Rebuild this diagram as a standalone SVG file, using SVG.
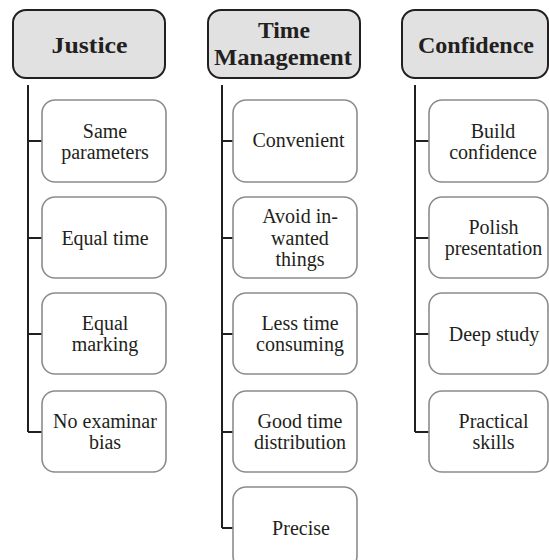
<svg xmlns="http://www.w3.org/2000/svg" width="549" height="560" viewBox="0 0 549 560">
<style>
.hdr{fill:#e1e1e1;stroke:#231f20;stroke-width:2}
.box{fill:#ffffff;stroke:#8c8c8c;stroke-width:1.6}
.ht{font-family:'Liberation Serif','Tinos','Times New Roman','DejaVu Serif',serif;font-weight:bold;font-size:24px;fill:#231f20;text-anchor:middle}
.ct{font-family:'Liberation Serif','Tinos','Times New Roman','DejaVu Serif',serif;font-size:20px;fill:#231f20;text-anchor:middle}
.con{fill:none;stroke:#231f20;stroke-width:2}
</style>
<rect width="549" height="560" fill="#ffffff"/>
<g id="connectors">
<path class="con" d="M28 85V432M28 141H42M28 238H42M28 334H42M28 432H42"/>
<path class="con" d="M222 85V528M222 141H233M222 238H233M222 334H233M222 432H233M222 528H233"/>
<path class="con" d="M415 85V432M415 141H429M415 238H429M415 334H429M415 432H429"/>
</g>
<g id="justice">
<rect class="hdr" x="13" y="10" width="152" height="68" rx="13"/>
<text class="ht" x="89.5" y="53" textLength="76" lengthAdjust="spacingAndGlyphs">Justice</text>
</g>
<g id="time-management">
<rect class="hdr" x="208" y="10" width="152" height="68" rx="13"/>
<text class="ht" x="284" y="38" textLength="52" lengthAdjust="spacingAndGlyphs">Time</text>
<text class="ht" x="283" y="65" textLength="138" lengthAdjust="spacingAndGlyphs">Management</text>
</g>
<g id="confidence">
<rect class="hdr" x="402" y="10" width="146" height="68" rx="13"/>
<text class="ht" x="476" y="53" textLength="116" lengthAdjust="spacingAndGlyphs">Confidence</text>
</g>
<g id="same-parameters">
<rect class="box" x="42" y="100" width="124" height="82" rx="13"/>
<text class="ct" x="105" y="137.5">Same</text>
<text class="ct" x="105" y="158.5">parameters</text>
</g>
<g id="equal-time">
<rect class="box" x="42" y="197" width="124" height="81" rx="13"/>
<text class="ct" x="105" y="245">Equal time</text>
</g>
<g id="equal-marking">
<rect class="box" x="42" y="293" width="124" height="81" rx="13"/>
<text class="ct" x="105" y="330">Equal</text>
<text class="ct" x="105" y="351">marking</text>
</g>
<g id="no-examinar-bias">
<rect class="box" x="42" y="391" width="124" height="81" rx="13"/>
<text class="ct" x="105" y="428">No examinar</text>
<text class="ct" x="105" y="449">bias</text>
</g>
<g id="convenient">
<rect class="box" x="233" y="100" width="124" height="82" rx="13"/>
<text class="ct" x="298.5" y="147">Convenient</text>
</g>
<g id="avoid-inwanted-things">
<rect class="box" x="233" y="197" width="124" height="81" rx="13"/>
<text class="ct" x="300" y="223">Avoid in-</text>
<text class="ct" x="300" y="244.5">wanted</text>
<text class="ct" x="300" y="266">things</text>
</g>
<g id="less-time-consuming">
<rect class="box" x="233" y="293" width="124" height="81" rx="13"/>
<text class="ct" x="300" y="330">Less time</text>
<text class="ct" x="300" y="351">consuming</text>
</g>
<g id="good-time-distribution">
<rect class="box" x="233" y="391" width="124" height="81" rx="13"/>
<text class="ct" x="300" y="428">Good time</text>
<text class="ct" x="300" y="449">distribution</text>
</g>
<g id="precise">
<rect class="box" x="233" y="487" width="124" height="82" rx="13"/>
<text class="ct" x="301" y="535">Precise</text>
</g>
<g id="build-confidence">
<rect class="box" x="429" y="100" width="119" height="82" rx="13"/>
<text class="ct" x="493" y="137.5">Build</text>
<text class="ct" x="493" y="158.5">confidence</text>
</g>
<g id="polish-presentation">
<rect class="box" x="429" y="197" width="119" height="81" rx="13"/>
<text class="ct" x="493.5" y="234">Polish</text>
<text class="ct" x="493.5" y="255">presentation</text>
</g>
<g id="deep-study">
<rect class="box" x="429" y="293" width="119" height="81" rx="13"/>
<text class="ct" x="494" y="341">Deep study</text>
</g>
<g id="practical-skills">
<rect class="box" x="429" y="391" width="119" height="81" rx="13"/>
<text class="ct" x="493.5" y="428">Practical</text>
<text class="ct" x="493.5" y="449">skills</text>
</g>
</svg>
